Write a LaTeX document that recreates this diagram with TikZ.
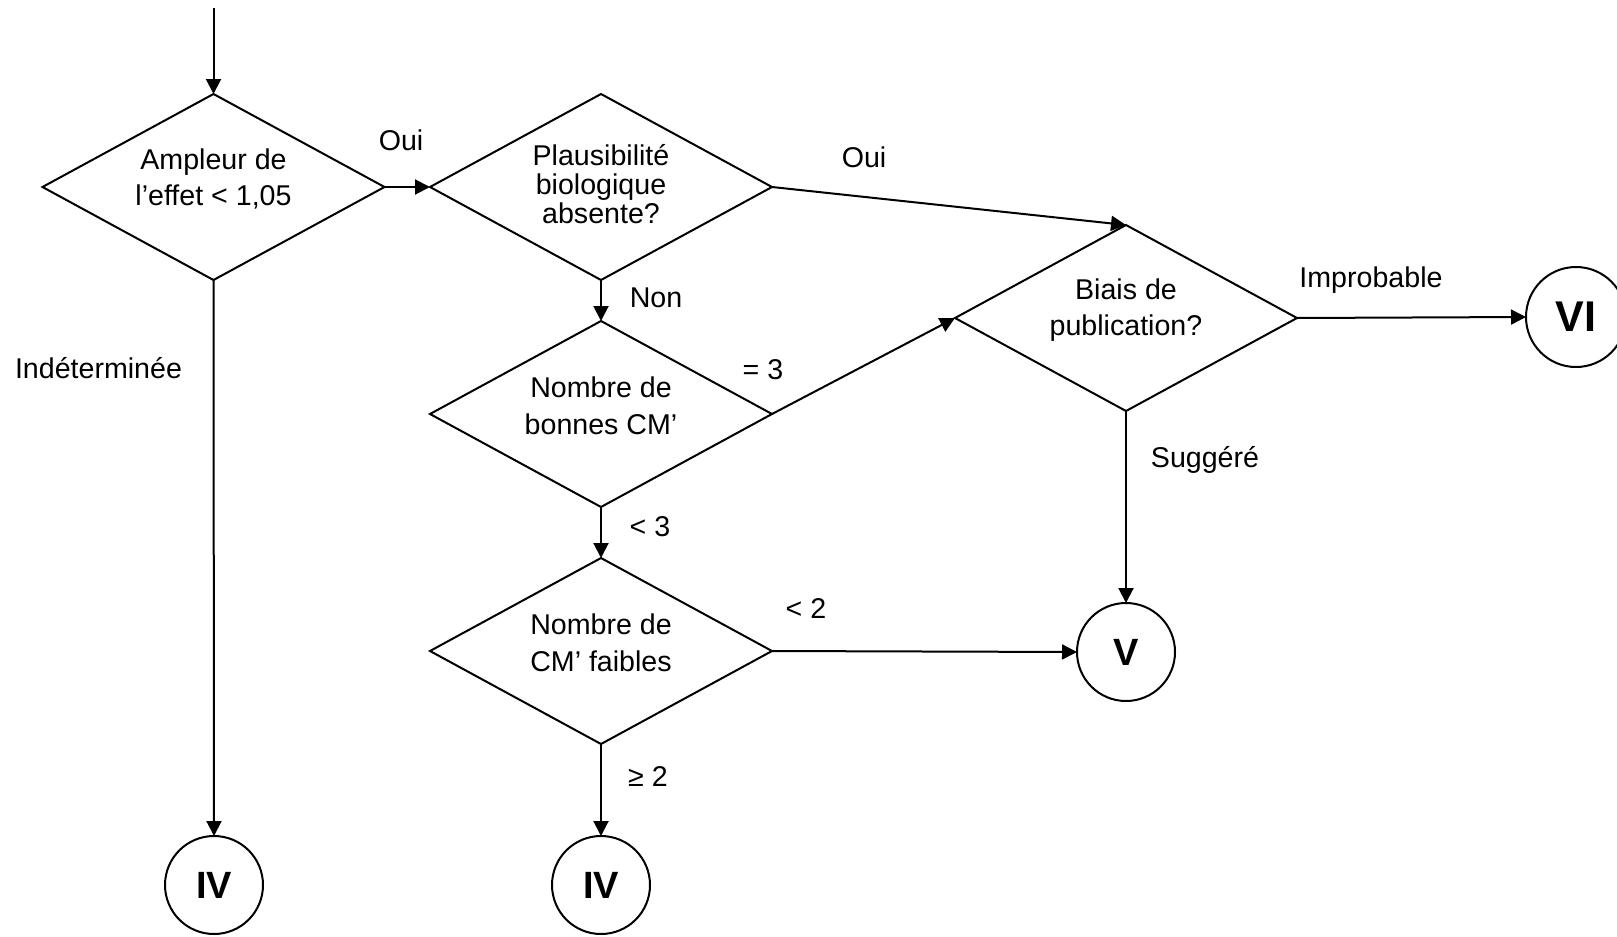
\documentclass[tikz,border=0pt]{standalone}
\usepackage{fontspec}
\setmainfont{Liberation Sans}
\usetikzlibrary{shapes.geometric,arrows.meta}
\begin{document}
\begin{tikzpicture}[x=0.5pt,y=-0.5pt,
  line width=1pt,
  dia/.style={draw, shape=diamond, minimum width=171pt, minimum height=93pt, inner sep=0pt, outer sep=0pt},
  circ/.style={draw, circle, minimum size=49pt, inner sep=0pt, outer sep=0pt, font=\fontsize{19}{19}\selectfont\bfseries},
  dtext/.style={align=center, font=\fontsize{14.3}{18.3}\selectfont, inner sep=0pt},
  dtextb/.style={align=center, font=\fontsize{14.3}{14.6}\selectfont, inner sep=0pt},
  lbl/.style={anchor=base, font=\fontsize{14.3}{17}\selectfont, inner sep=0pt},
  arr/.style={-{Triangle[length=7.5pt,width=7.5pt]}}]
\useasboundingbox (0,0) rectangle (1617,937);

% decision diamonds
\node[dia] (d1) at (213.5,187) {};
\node[dia] (d2) at (601,187) {};
\node[dia] (d3) at (601,414) {};
\node[dia] (d4) at (601,651) {};
\node[dia] (d5) at (1126,318) {};

% diamond texts
\node[dtext] (t1) at ([yshift=4pt]d1.center) {Ampleur de\\l’effet < 1,05};
\node[dtextb] (t2) at ([yshift=1.5pt]d2.center) {Plausibilité\\biologique\\absente?};
\node[dtext] (t3) at ([yshift=4pt]d3.center) {Nombre de\\bonnes CM’};
\node[dtext] (t4) at ([yshift=4pt]d4.center) {Nombre de\\CM’ faibles};
\node[dtext] (t5) at ([yshift=4pt]d5.center) {Biais de\\publication?};

% end circles
\node[circ] (iva) at (214,885) {IV};
\node[circ] (ivb) at (601,885) {IV};
\node[circ] (v) at (1126,652) {V};
\node[circ, minimum size=50pt, font=\fontsize{21.5}{21.5}\selectfont\bfseries] (vi) at (1576,317) {VI};

% connectors
\coordinate (start) at (213.5,8);
\draw[arr] (start) -- (d1.north);
\draw[arr] (d1.east) -- (d2.west);
\draw[arr] (d2.east) -- (d5.north);
\draw[arr] (d2.south) -- (d3.north);
\draw[arr] (d3.east) -- (d5.west);
\draw[arr] (d3.south) -- (d4.north);
\draw[arr] (d4.east) -- (v.west);
\draw[arr] (d4.south) -- (ivb.north);
\draw[arr] (d5.east) -- (vi.west);
\draw[arr] (d5.south) -- (v.north);
\draw[arr] (d1.south) -- (iva.north);

% connector labels
\node[lbl] (l1) at (401,150) {Oui};
\node[lbl] (l2) at (864,167) {Oui};
\node[lbl] (l3) at (656,307) {Non};
\node[lbl] (l4) at (98.5,378) {Indéterminée};
\node[lbl] (l5) at (763,379) {= 3};
\node[lbl] (l6) at (650,536) {< 3};
\node[lbl] (l7) at (806,618) {< 2};
\node[lbl] (l8) at (648,786) {≥ 2};
\node[lbl] (l9) at (1371,287) {Improbable};
\node[lbl] (l10) at (1205,467) {Suggéré};
\end{tikzpicture}
\end{document}
